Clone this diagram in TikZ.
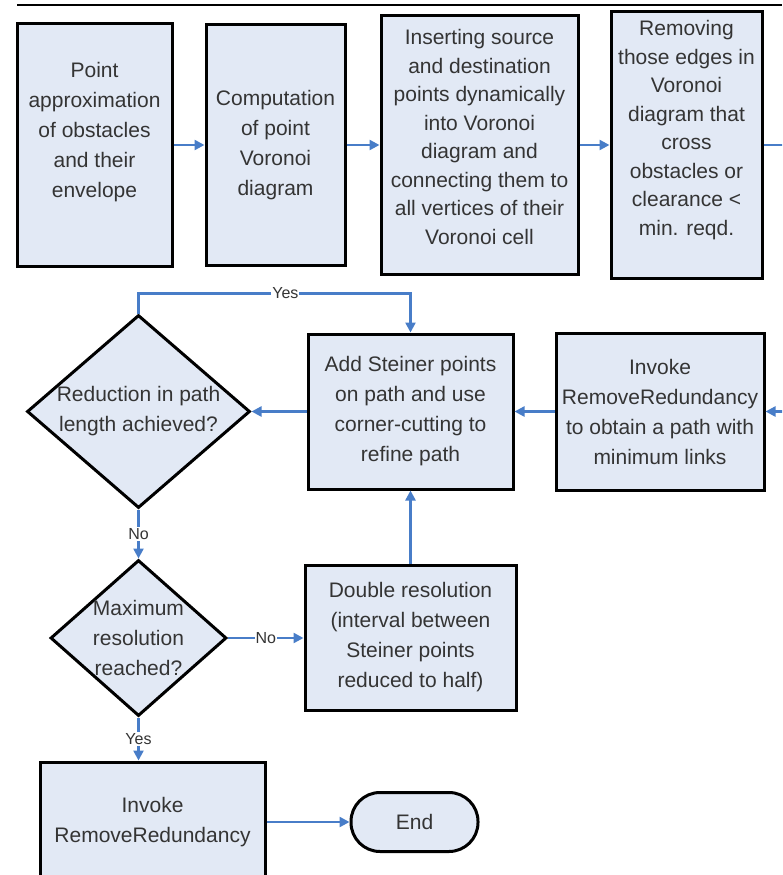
\documentclass[tikz,border=0pt]{standalone}
\usepackage{fontspec}
\setmainfont{Liberation Sans}
\usepackage{tikz}
\usetikzlibrary{arrows.meta,positioning,shapes.geometric}
\definecolor{BoxFill}{RGB}{226,233,245}
\definecolor{FlowBlue}{RGB}{72,125,200}
\definecolor{TxtGray}{RGB}{52,52,52}

\begin{document}
\begin{tikzpicture}[x=1pt,y=-1pt,
  box/.style={draw,line width=3pt,fill=BoxFill,text=TxtGray,align=center,inner sep=0pt,font=\fontsize{21}{30}\selectfont},
  decision/.style={draw,diamond,line width=3pt,fill=BoxFill,inner sep=0pt},
  dtext/.style={text=TxtGray,align=center,font=\fontsize{21}{30}\selectfont},
  term/.style={box,rounded corners=29pt},
  flow/.style={draw=FlowBlue,line width=2.4pt,-{Triangle[length=10pt,width=10pt]}},
  lbl/.style={fill=white,inner sep=1pt,text=TxtGray,font=\fontsize{16}{16}\selectfont}]
\useasboundingbox (0,0) rectangle (782,875);
\clip (0,0) rectangle (782,875);
\draw[line width=2pt] (17,5) -- (782,5);

% first row
\node[box,minimum width=155pt,minimum height=242pt,text depth=30pt] (approx) at (94.5,145) {Point\\approximation\\of obstacles\\and their\\envelope};
\node[box,minimum width=139pt,minimum height=240pt,right=31pt of approx] (voronoi) {Computation\\of point\\Voronoi\\diagram};
\node[box,minimum width=197pt,minimum height=258pt,right=33pt of voronoi,font=\fontsize{21}{28.5}\selectfont,text depth=16pt] (insert) {Inserting source\\and destination\\points dynamically\\into Voronoi\\diagram and\\connecting them to\\all vertices of their\\Voronoi cell};
\node[box,minimum width=151pt,minimum height=266pt,right=30pt of insert,font=\fontsize{21}{28.5}\selectfont,text depth=34pt] (prune) {Removing\\those edges in\\Voronoi\\diagram that\\cross\\obstacles or\\clearance <\\min. reqd.};

% second row
\node[decision,minimum width=223pt,minimum height=193pt,label={[dtext]center:{Reduction in path\\length achieved?}}] (reduced) at (138.5,411.5) {};
\node[box,minimum width=205pt,minimum height=155pt,right=55pt of reduced] (steiner) {Add Steiner points\\on path and use\\corner-cutting to\\refine path};
\node[box,minimum width=208pt,minimum height=157pt,right=40pt of steiner] (minlinks) {Invoke\\RemoveRedundancy\\to obtain a path with\\minimum links};

% resolution loop
\node[decision,minimum width=176pt,minimum height=156pt,below=49pt of reduced,label={[dtext]center:{Maximum\\resolution\\reached?}}] (maxres) {};
\node[box,minimum width=211pt,minimum height=145pt,below=73pt of steiner] (halve) {Double resolution\\(interval between\\Steiner points\\reduced to half)};

% last row
\node[box,minimum width=225pt,minimum height=120pt] (final) at (152.5,822) {Invoke\\RemoveRedundancy};
\node[term,minimum width=127pt,minimum height=59pt,right=83pt of final] (stop) {End};

\draw[flow] (approx.east) -- (voronoi.west);
\draw[flow] (voronoi.east) -- (insert.west);
\draw[flow] (insert.east) -- (prune.west);
\draw[flow] (prune.east) -- ++(26,0) |- (minlinks.east);
\draw[flow] (minlinks.west) -- (steiner.east);
\draw[flow] (steiner.west) -- (reduced.east);
\draw[flow] (reduced.north) -- ++(0,-20) -| node[lbl,pos=0.27]{Yes} (steiner.north);
\draw[flow] (reduced.south) -- node[lbl]{No} (maxres.north);
\draw[flow] (maxres.east) -- node[lbl]{No} (maxres.east -| halve.west);
\draw[flow] (halve.north) -- (steiner.south);
\draw[flow] (maxres.south) -- node[lbl]{Yes} (maxres.south |- final.north);
\draw[flow] (final.east) -- (stop.west);
\end{tikzpicture}
\end{document}
